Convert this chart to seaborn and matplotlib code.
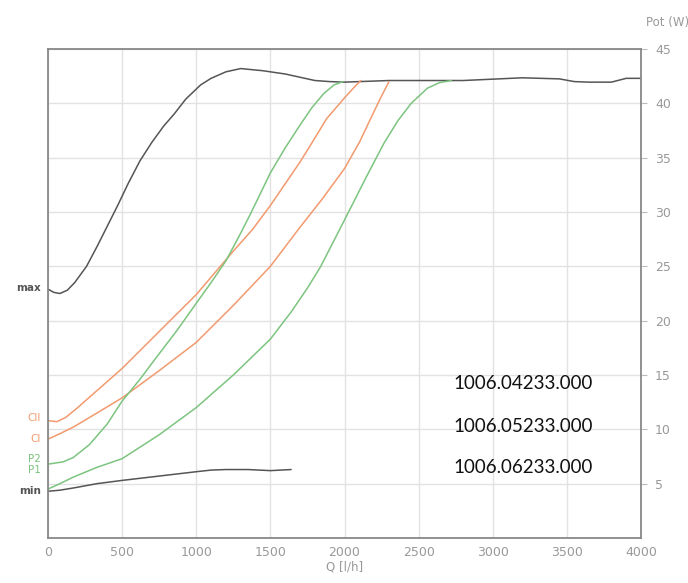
import numpy as np
import pandas as pd
import matplotlib
matplotlib.use("Agg")
import matplotlib.pyplot as plt
import matplotlib.transforms as mtransforms
import seaborn as sns

# curves: Q [l/h] -> Pot [W]
q_max = [0, 40, 80, 130, 180, 260, 330, 400, 470, 540, 620, 700, 780, 850, 930, 1030, 1100,
         1200, 1300, 1450, 1600, 1700, 1800, 1900, 2000, 2300, 2800, 3200, 3450, 3550, 3650,
         3800, 3900, 4000]
p_max = [22.9, 22.6, 22.5, 22.8, 23.5, 25.0, 26.8, 28.7, 30.6, 32.6, 34.7, 36.4, 37.9, 39.0,
         40.4, 41.7, 42.3, 42.9, 43.2, 43.0, 42.7, 42.4, 42.1, 42.0, 41.95, 42.1, 42.1, 42.35,
         42.25, 42.0, 41.95, 41.95, 42.3, 42.3]

q_min = [0, 80, 170, 330, 500, 750, 1000, 1100, 1200, 1350, 1500, 1640]
p_min = [4.3, 4.4, 4.6, 5.0, 5.3, 5.7, 6.1, 6.25, 6.3, 6.3, 6.2, 6.3]

q_cii = [0, 60, 120, 200, 350, 500, 625, 750, 875, 1000, 1250, 1380, 1500, 1600, 1700, 1800,
         1880, 2000, 2060, 2110]
p_cii = [10.8, 10.7, 11.1, 12.0, 13.8, 15.6, 17.3, 19.0, 20.7, 22.4, 26.4, 28.4, 30.6, 32.6,
         34.6, 36.8, 38.6, 40.5, 41.4, 42.1]

q_ci = [0, 80, 170, 330, 500, 750, 1000, 1250, 1500, 1700, 1850, 2000, 2100, 2180, 2240, 2300]
p_ci = [9.1, 9.6, 10.2, 11.5, 12.9, 15.4, 18.0, 21.4, 25.0, 28.6, 31.2, 34.0, 36.4, 38.7, 40.4, 42.0]

q_p2 = [0, 100, 170, 280, 400, 500, 620, 730, 870, 1000, 1100, 1200, 1290, 1365, 1500, 1600,
        1700, 1780, 1860, 1930, 1990]
p_p2 = [6.8, 7.0, 7.4, 8.6, 10.5, 12.6, 14.6, 16.6, 19.1, 21.6, 23.5, 25.5, 27.8, 29.8, 33.6,
        35.9, 38.0, 39.6, 40.9, 41.7, 42.0]

q_p1 = [0, 80, 170, 330, 500, 750, 1000, 1250, 1500, 1640, 1750, 1840, 2020, 2150, 2265, 2360,
        2450, 2560, 2640, 2720]
p_p1 = [4.5, 5.0, 5.6, 6.5, 7.3, 9.5, 12.0, 15.0, 18.3, 20.8, 23.0, 25.0, 29.8, 33.3, 36.3,
        38.4, 40.0, 41.4, 41.9, 42.1]

# labels on the left side
side_labels = ["max", "CII", "CI", "P2", "P1", "min"]
side_values = [23.0, 11.0, 9.1, 7.3, 6.3, 4.3]

codes = ["1006.04233.000", "1006.05233.000", "1006.06233.000"]
code_y = [14.2, 10.3, 6.45]

x_ticks = [0, 500, 1000, 1500, 2000, 2500, 3000, 3500, 4000]
y_ticks = [5, 10, 15, 20, 25, 30, 35, 40, 45]

black = "#555555"
orange = "#f29a6e"
green = "#7cc47f"

sns.set_style("white")
plt.rcParams['font.family'] = ['DejaVu Sans']

fig = plt.figure(figsize=(6.88, 5.83), dpi=100)
ax = fig.add_axes([48 / 688, 1 - 538 / 583, 593 / 688, 489 / 583])

series = [
    (q_max, p_max, black),
    (q_min, p_min, black),
    (q_cii, p_cii, orange),
    (q_ci, p_ci, orange),
    (q_p2, p_p2, green),
    (q_p1, p_p1, green),
]
for q, p, c in series:
    df = pd.DataFrame({"Q": q, "P": p})
    sns.lineplot(data=df, x="Q", y="P", ax=ax, color=c, linewidth=1.1, sort=False)

ax.set_xlim(0, 4000)
ax.set_ylim(0, 45)
ax.set_xticks(x_ticks)
ax.set_yticks(y_ticks)
ax.grid(True, color="#e2e2e2", linewidth=1.0)
ax.yaxis.tick_right()
ax.tick_params(axis="y", right=True, length=4, color="#bbbbbb", labelcolor="#999999",
               labelsize=9, pad=6)
ax.tick_params(axis="x", bottom=True, length=0, labelcolor="#999999", labelsize=9, pad=6)
for s in ax.spines.values():
    s.set_color("#888888")
    s.set_linewidth(1.3)

ax.set_xlabel("Q [l/h]", color="#999999", fontsize=8.5, labelpad=1)
ax.set_ylabel("")
ax.text(1.045, 1.055, "Pot (W)", transform=ax.transAxes, ha="center", va="center",
        color="#999999", fontsize=8.5)

trans = mtransforms.blended_transform_factory(ax.transAxes, ax.transData)
label_colors = [black, orange, orange, green, green, black]
for lab, v, c in zip(side_labels, side_values, label_colors):
    ax.text(-0.012, v, lab, transform=trans, ha="right", va="center", color=c,
            fontsize=7.5, fontweight="bold" if c == black else "normal")

for t, y in zip(codes, code_y):
    ax.text(2736, y, t, ha="left", va="center", color="#111111", fontsize=13.5,
            family=["Lato", "DejaVu Sans"])

fig.savefig("out.png", dpi=100)
